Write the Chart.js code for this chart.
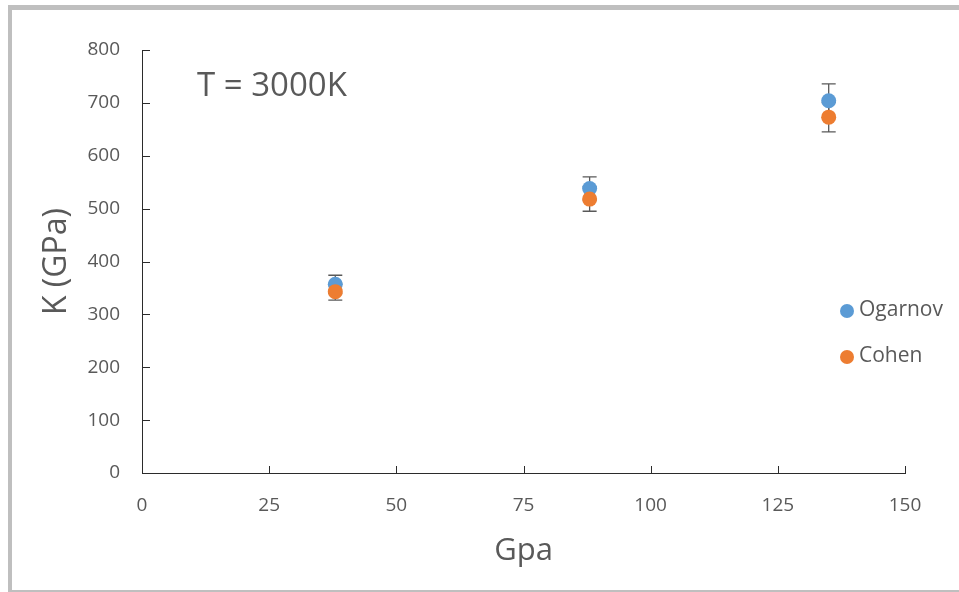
<!DOCTYPE html>
<html>
<head>
<meta charset="utf-8">
<script src="https://cdn.jsdelivr.net/npm/chart.js@4.4.1/dist/chart.umd.min.js"></script>
<style>
  html, body { margin: 0; padding: 0; background: #fff; overflow: hidden; }
  #frame {
    position: absolute; left: 8px; top: 5px; width: 980px; height: 580px;
    border: 4px solid #bfbfbf; border-top-width: 5px;
  }
  #wrap { position: absolute; left: 0; top: 0; width: 959px; height: 592px; }
</style>
</head>
<body>
<div id="frame"></div>
<div id="wrap"><canvas id="chart" width="959" height="592"></canvas></div>
<script>
// 데이터
const pressures = [38, 88, 135];
const ogarnovK = [357, 538, 704];
const ogarnovErr = [17, 22, 32];
const cohenK = [343, 518, 673];
const cohenErr = [16, 23, 28];
const xTicks = [0, 25, 50, 75, 100, 125, 150];
const yTicks = [0, 100, 200, 300, 400, 500, 600, 700, 800];
const seriesNames = ['Ogarnov', 'Cohen'];
const annotationText = 'T = 3000K';

const BLUE = '#5b9bd5';
const ORANGE = '#ed7d31';
const GREY_TEXT = '#595959';
const AXIS = '#2b2b2b';
const FONT = '"Open Sans", "Noto Sans", sans-serif';

const toPoints = (xs, ys, errs) => xs.map((x, i) => ({ x: x, y: ys[i], err: errs[i] }));

// 에러바 (마커 아래에 그림)
const errorBars = {
    id: 'errorBars',
    beforeDatasetsDraw(chart) {
        const { ctx, scales: { x, y } } = chart;
        ctx.save();
        ctx.strokeStyle = '#595959';
        ctx.lineWidth = 1.3;
        chart.data.datasets.forEach(ds => {
            ds.data.forEach(p => {
                const px = x.getPixelForValue(p.x);
                const top = y.getPixelForValue(p.y + p.err);
                const bot = y.getPixelForValue(p.y - p.err);
                ctx.beginPath();
                ctx.moveTo(px, top); ctx.lineTo(px, bot);
                ctx.moveTo(px - 7, top); ctx.lineTo(px + 7, top);
                ctx.moveTo(px - 7, bot); ctx.lineTo(px + 7, bot);
                ctx.stroke();
            });
        });
        ctx.restore();
    }
};

// 안쪽 눈금, 텍스트, 범례
const extras = {
    id: 'extras',
    afterDraw(chart) {
        const { ctx, scales: { x, y }, chartArea } = chart;
        ctx.save();
        ctx.strokeStyle = AXIS;
        ctx.lineWidth = 1;
        ctx.beginPath();
        yTicks.forEach(v => {
            const py = Math.round(y.getPixelForValue(v)) + 0.5;
            ctx.moveTo(chartArea.left, py); ctx.lineTo(chartArea.left + 8, py);
        });
        xTicks.forEach(v => {
            const px = Math.round(x.getPixelForValue(v)) + 0.5;
            ctx.moveTo(px, chartArea.bottom); ctx.lineTo(px, chartArea.bottom - 7);
        });
        ctx.stroke();

        ctx.fillStyle = GREY_TEXT;
        ctx.font = '33px ' + FONT;
        ctx.textBaseline = 'middle';
        ctx.textAlign = 'left';
        ctx.fillText(annotationText, 197, 87);

        // 범례
        ctx.font = '21px ' + FONT;
        const colors = [BLUE, ORANGE];
        const rows = [311, 357];
        seriesNames.forEach((name, i) => {
            ctx.fillStyle = colors[i];
            ctx.beginPath();
            ctx.arc(847, rows[i], 7, 0, Math.PI * 2);
            ctx.fill();
            ctx.fillStyle = GREY_TEXT;
            ctx.fillText(name, 859, rows[i] - 1);
        });
        ctx.restore();
    }
};

new Chart(document.getElementById('chart'), {
    type: 'scatter',
    data: {
        datasets: [
            {
                label: seriesNames[0],
                data: toPoints(pressures, ogarnovK, ogarnovErr),
                backgroundColor: BLUE,
                borderColor: BLUE,
                pointRadius: 7.5,
                borderWidth: 0,
                order: 1
            },
            {
                label: seriesNames[1],
                data: toPoints(pressures, cohenK, cohenErr),
                backgroundColor: ORANGE,
                borderColor: ORANGE,
                pointRadius: 7.5,
                borderWidth: 0,
                order: 0
            }
        ]
    },
    options: {
        responsive: false,
        animation: false,
        events: [],
        layout: { padding: { left: 0, top: 50, right: 54, bottom: 0 } },
        plugins: {
            legend: { display: false },
            tooltip: { enabled: false }
        },
        scales: {
            x: {
                type: 'linear',
                min: 0, max: 150,
                afterBuildTicks: s => { s.ticks = xTicks.map(v => ({ value: v })); },
                afterFit: s => { s.height = 119; },
                grid: { display: false, drawTicks: false },
                border: { display: true, color: AXIS, width: 1 },
                ticks: { color: GREY_TEXT, font: { size: 19, family: FONT }, padding: 21 },
                title: {
                    display: true, text: 'Gpa', color: GREY_TEXT,
                    font: { size: 31, family: FONT }, padding: { top: 0, bottom: 22 }
                }
            },
            y: {
                type: 'linear',
                min: 0, max: 800,
                afterBuildTicks: s => { s.ticks = yTicks.map(v => ({ value: v })); },
                afterFit: s => { s.width = 142; },
                grid: { display: false, drawTicks: false },
                border: { display: true, color: AXIS, width: 1 },
                ticks: { color: GREY_TEXT, font: { size: 19, family: FONT }, padding: 22 },
                title: {
                    display: true, text: 'K (GPa)', color: GREY_TEXT,
                    font: { size: 32, family: FONT }, padding: { top: 38, bottom: 0 }
                }
            }
        }
    },
    plugins: [errorBars, extras]
});
</script>
</body>
</html>
